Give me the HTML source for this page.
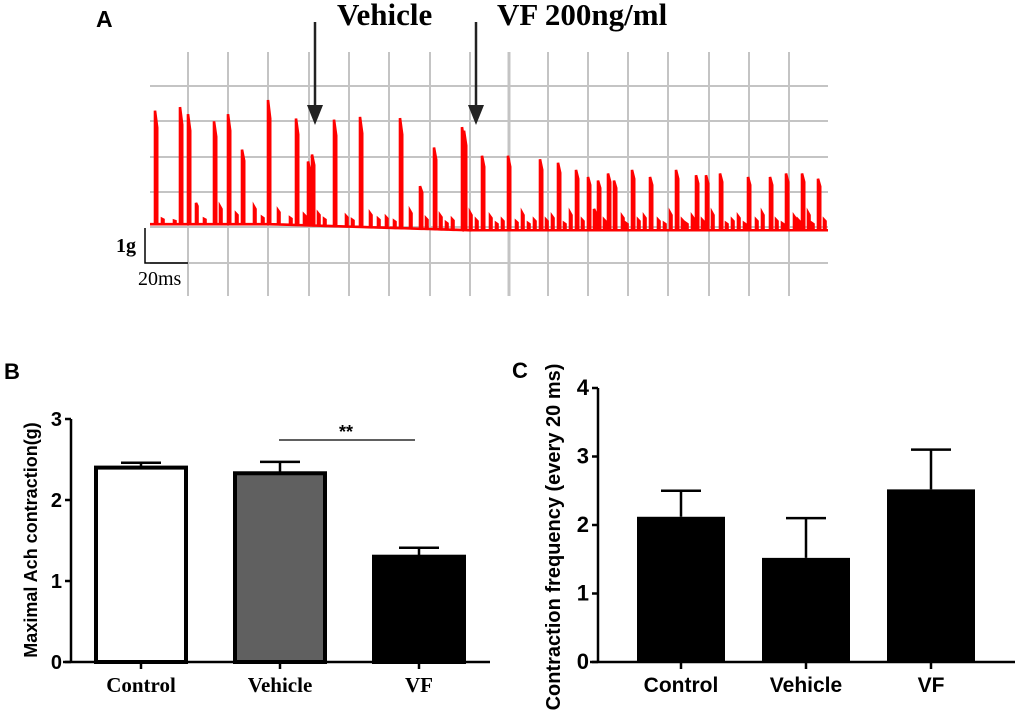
<!DOCTYPE html>
<html><head><meta charset="utf-8"><style>
body{margin:0;background:#fff;}
svg text{font-family:"Liberation Sans",Arial,sans-serif;}
</style></head><body>
<svg id="fig" width="1020" height="719" viewBox="0 0 1020 719" xmlns="http://www.w3.org/2000/svg">
<g id="panelA"></g>
<g id="panelB"></g>
<g id="panelC"></g>
</svg>
<script>
// ===== Panel A data =====
const spikeTimes = [2.5,15,19,32,39,46,59,73,79,81,92,105,125,135,142,156,157,166,179,195,204,213,219,224,229,232,241,250,263,273,278,285,299,310,318,326,334];
const spikeAmps  = [3.2,3.3,3.1,2.9,3.1,2.1,3.5,3.0,1.8,2.0,3.0,3.1,3.1,1.2,2.3,2.9,2.8,2.1,2.1,2.0,1.9,1.7,1.5,1.4,1.6,1.4,1.7,1.5,1.7,1.55,1.55,1.6,1.5,1.5,1.6,1.6,1.45];
const smallTimes = [6,12,23,27,35,43,52,56,64,70,77,84,87,98,101,110,114,118,122,130,138,145,148,151,160,163,170,173,176,183,186,189,192,198,201,207,210,216,222,227,236,238,244,247,254,257,260,266,268,271,276,281,288,291,294,297,303,306,313,316,322,324,329,331,337];
const smallAmps  = [0.15,0.1,0.6,0.15,0.5,0.3,0.5,0.2,0.4,0.2,0.3,0.35,0.2,0.3,0.2,0.4,0.25,0.3,0.2,0.5,0.3,0.4,0.2,0.3,0.5,0.3,0.4,0.2,0.3,0.25,0.5,0.2,0.3,0.3,0.4,0.2,0.5,0.3,0.6,0.3,0.4,0.2,0.3,0.4,0.3,0.2,0.5,0.3,0.2,0.4,0.3,0.5,0.2,0.3,0.4,0.2,0.3,0.5,0.3,0.2,0.4,0.3,0.5,0.2,0.3];
const baseTimes = [0,60,160,339];
const baseVals  = [0.05,0.05,-0.12,-0.12];

// ===== Panel B data =====
const bCats = ["Control","Vehicle","VF"];
const bVals = [2.4,2.33,1.3];
const bErr  = [0.06,0.14,0.11];
const bFill = ["#fff","#606060","#000"];
const bTicks = [0,1,2,3];

// ===== Panel C data =====
const cCats = ["Control","Vehicle","VF"];
const cVals = [2.12,1.52,2.52];
const cErr  = [0.38,0.58,0.58];
const cTicks = [0,1,2,3,4];

const NS="http://www.w3.org/2000/svg";
function mk(parent,tag,attrs,text){const e=document.createElementNS(NS,tag);for(const k in attrs)e.setAttribute(k,attrs[k]);if(text!==undefined)e.textContent=text;parent.appendChild(e);return e;}

// ---------- Panel A ----------
const A=document.getElementById('panelA');
const tx=t=>150+t*2.0;         // 20ms = 40px
const ay=g=>226-g*35.5;        // 1g = 35.5px
const vlines=[188,228,268,309,349,389,430,470,509,548,588,628,668,709,749,789];
vlines.forEach(x=>{const l=mk(A,'line',{x1:x,y1:52,x2:x,y2:296,stroke:'#c4c4c4','stroke-width':x===509?3:2});

});
[86,121,157,192,227,263].forEach(y=>{const l=mk(A,'line',{x1:150,y1:y,x2:828,y2:y,stroke:'#c4c4c4','stroke-width':2});

});
function baseAt(t){for(let i=0;i<baseTimes.length-1;i++){if(t<=baseTimes[i+1]){const f=(t-baseTimes[i])/(baseTimes[i+1]-baseTimes[i]);return baseVals[i]+f*(baseVals[i+1]-baseVals[i]);}}return baseVals[baseVals.length-1];}
let ev=[];spikeTimes.forEach((t,i)=>ev.push([t,spikeAmps[i],2.2]));smallTimes.forEach((t,i)=>ev.push([t,smallAmps[i],1.5]));
ev.sort((a,b)=>a[0]-b[0]);
let d='M'+tx(0)+','+ay(baseAt(0));
ev.forEach(e=>{const b=baseAt(e[0]);d+=' L'+tx(e[0])+','+ay(b)+' L'+tx(e[0])+','+ay(b+e[1])+' L'+(tx(e[0])+e[2])+','+ay(b+e[1]*0.85)+' L'+(tx(e[0])+e[2])+','+ay(b);});
d+=' L'+tx(339)+','+ay(baseAt(339));
const tr=mk(A,'path',{d:d,fill:'none',stroke:'#ff0000','stroke-width':2.6,'stroke-linejoin':'miter'});


// scale bar
const sb=mk(A,'path',{d:'M145,228 L145,263 L188,263',fill:'none',stroke:'#000','stroke-width':1.5});


let t1=mk(A,'text',{x:116,y:252,'font-size':20,'font-weight':'bold',style:'font-family:"Liberation Serif",serif'},'1g');


t1=mk(A,'text',{x:138,y:285,'font-size':20,style:'font-family:"Liberation Serif",serif'},'20ms');


// arrows
[[315,'Vehicle',337],[476,'VF 200ng/ml',497]].forEach(a=>{
 const ar=mk(A,'g',{});
 
 mk(ar,'line',{x1:a[0],y1:22,x2:a[0],y2:112,stroke:'#222','stroke-width':2.5});
 mk(ar,'polygon',{points:(a[0]-8)+',105 '+(a[0]+8)+',105 '+a[0]+',125',fill:'#222'});
 const l=mk(A,'text',{x:a[2],y:25,'font-size':31,'font-weight':'bold',style:'font-family:"Liberation Serif",serif'},a[1]);
 
 
});
t1=mk(A,'text',{x:96,y:27,'font-size':23,'font-weight':'bold'},'A');



// ---------- Bar chart helper ----------
function barChart(G,o){
 const y=v=>o.y0-v*o.unit;
 o.ticks.forEach(t=>{mk(G,'line',{x1:o.ax-6,y1:y(t),x2:o.ax,y2:y(t),stroke:'#000','stroke-width':2.5});
  const tl=mk(G,'text',{x:o.ax-9,y:y(t)+7,'font-size':o.tfs,'font-weight':'bold','text-anchor':'end'},t);
  
  });
 o.cats.forEach((c,i)=>{
  const cx=o.cx[i];
  const eb=mk(G,'path',{d:'M'+cx+','+y(o.vals[i])+' L'+cx+','+y(o.vals[i]+o.err[i])+' M'+(cx-20)+','+y(o.vals[i]+o.err[i])+' L'+(cx+20)+','+y(o.vals[i]+o.err[i]),stroke:'#000','stroke-width':2.5,fill:'none'});
  
  
  const sw=o.stroke?4:0;
  const r=mk(G,'rect',{x:cx-o.bw/2+sw/2,y:y(o.vals[i]),width:o.bw-sw,height:o.y0-y(o.vals[i]),fill:o.fill[i],stroke:'#000','stroke-width':sw});
  
  
  mk(G,'line',{x1:cx,y1:o.y0,x2:cx,y2:o.y0+7,stroke:'#000','stroke-width':2.5});
  const l=mk(G,'text',{x:cx,y:o.y0+30,'font-size':o.lfs,'font-weight':'bold','text-anchor':'middle',style:o.serif?'font-family:"Liberation Serif",serif':''},c);
  
  
 });
 const ax=mk(G,'path',{d:'M'+o.ax+','+y(o.ticks[o.ticks.length-1])+' L'+o.ax+','+o.y0+' M'+o.xs+','+o.y0+' L'+o.xe+','+o.y0,stroke:'#000','stroke-width':2.5,fill:'none'});
 
 
 const yt=mk(G,'text',{x:0,y:0,'font-size':o.yfs,'font-weight':'bold','text-anchor':'middle',transform:'translate('+o.ytx+','+o.yty+') rotate(-90)'},o.ytitle);
 
 
 return y;
}
const B=document.getElementById('panelB');
barChart(B,{y0:662,unit:81,ax:71,xs:63,xe:490,cats:bCats,vals:bVals,err:bErr,fill:bFill,ticks:bTicks,cx:[141,280,419],bw:94,stroke:true,tfs:20,lfs:21,serif:true,yfs:18,ytx:37,yty:540,ytitle:'Maximal Ach contraction(g)'});
const sig=mk(B,'line',{x1:279,y1:440,x2:415,y2:440,stroke:'#000','stroke-width':1.3});


t1=mk(B,'text',{x:346,y:438,'font-size':18,'font-weight':'bold','text-anchor':'middle'},'**');


t1=mk(B,'text',{x:4,y:379,'font-size':22,'font-weight':'bold'},'B');



const C=document.getElementById('panelC');
barChart(C,{y0:662,unit:68.5,ax:598,xs:590,xe:1015,cats:cCats,vals:cVals,err:cErr,fill:['#000','#000','#000'],ticks:cTicks,cx:[681,806,931],bw:88,stroke:false,tfs:22,lfs:21,serif:false,yfs:20,ytx:560,yty:537,ytitle:'Contraction frequency (every 20 ms)'});
t1=mk(C,'text',{x:512,y:378,'font-size':22,'font-weight':'bold'},'C');


</script>
</body></html>
